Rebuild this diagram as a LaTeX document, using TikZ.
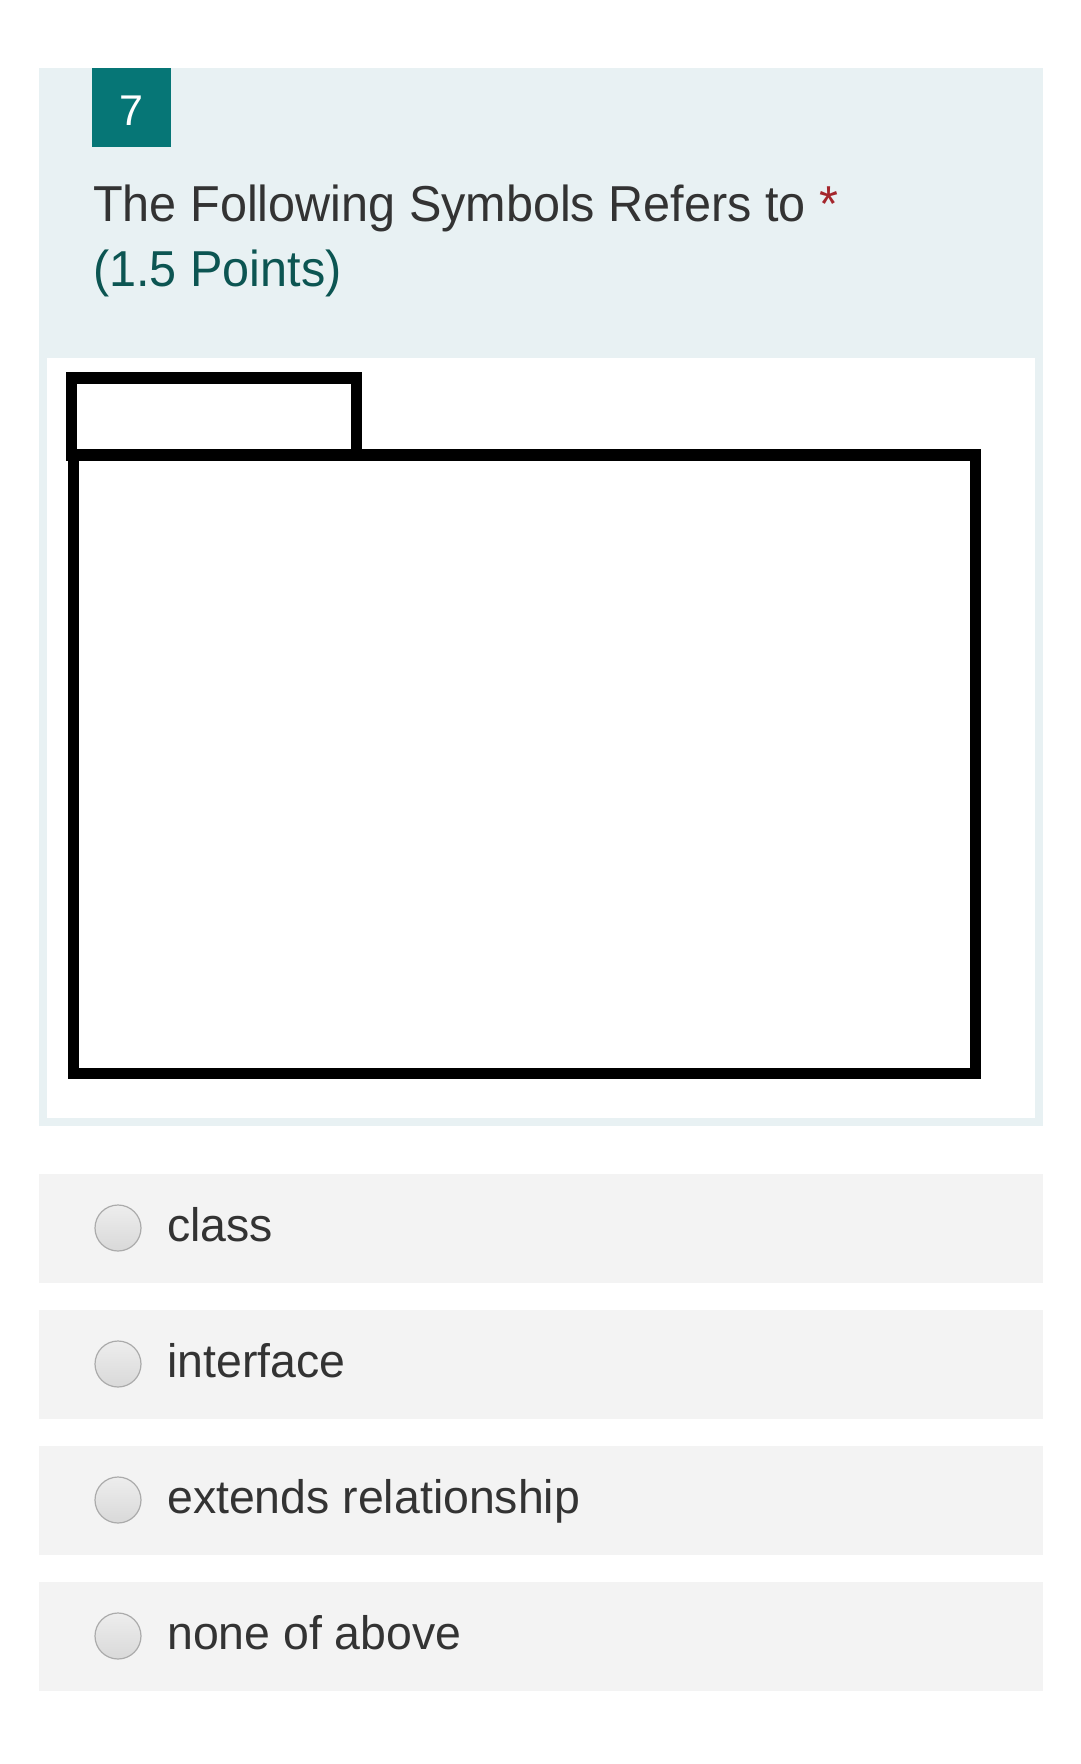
\documentclass[tikz,border=0pt]{standalone}
\usepackage{fontspec}
\setmainfont{Liberation Sans}
\newfontfamily\titlefont[FakeStretch=0.962]{Liberation Sans}
\newfontfamily\answerfont[FakeStretch=0.988]{Liberation Sans}
\usetikzlibrary{positioning}
\definecolor{hdrblue}{HTML}{E8F1F3}
\definecolor{optgray}{HTML}{F3F3F3}
\definecolor{badgeteal}{HTML}{067676}
\definecolor{pointsteal}{HTML}{0C5552}
\definecolor{txtgray}{HTML}{333333}
\definecolor{starred}{HTML}{A4262C}
\definecolor{radioedge}{HTML}{ABABAB}
\tikzstyle{badge} = [fill=badgeteal,rectangle,inner sep=0,minimum width=79pt,minimum height=79pt,text height=35pt,text=white,font=\fontsize{43pt}{50pt}\selectfont]
\tikzstyle{qtext} = [anchor=base west,inner sep=0,font=\titlefont\fontsize{50.5pt}{60pt}\selectfont]
\tikzstyle{pkgline} = [draw=black,line width=11.5pt,rectangle,inner sep=0]
\tikzstyle{optbox} = [fill=optgray,rectangle,inner sep=0,minimum width=1004pt,minimum height=109pt]
\tikzstyle{radio} = [circle,draw=radioedge,line width=1.2pt,top color=black!7,bottom color=black!15,minimum size=46pt,inner sep=0]
\tikzstyle{opttext} = [anchor=base west,inner sep=0,text=txtgray,font=\answerfont\fontsize{47pt}{56pt}\selectfont]
\def \lift {13.5pt}

\begin{document}
\begin{tikzpicture}[x=1pt,y=-1pt]
      \useasboundingbox[fill=white] (0,0) rectangle (1080,1764);
      % question card
      \fill[hdrblue] (39,68) rectangle (1043,1126);
      \fill[white] (47,358) rectangle (1035,1118);
      \node[badge] (num) at (131.5,107.5) {7};
      \node[qtext,text=txtgray] (title) at (93,221) {The Following Symbols Refers to \textcolor{starred}{*}};
      \node[qtext,text=pointsteal] (points) at (93,286) {(1.5 Points)};
      % package symbol
      \node[pkgline,minimum width=902pt,minimum height=618.5pt] (body) at (524.5,764.25) {};
      \node[pkgline,minimum width=285pt,minimum height=77.5pt] (tab) at (214,416.75) {};
      % answers
      \node[optbox] (opta) at (541,1228) {};
      \node[optbox] (optb) at (541,1364) {};
      \node[optbox] (optc) at (541,1500) {};
      \node[optbox] (optd) at (541,1636) {};
      \node[radio] (ra) at (118,1228) {};
      \node[radio] (rb) at (118,1364) {};
      \node[radio] (rc) at (118,1500) {};
      \node[radio] (rd) at (118,1636) {};
      \node[opttext] (la) at ([yshift=-\lift]ra.center -| 167,0) {class};
      \node[opttext] (lb) at ([yshift=-\lift]rb.center -| 167,0) {interface};
      \node[opttext] (lc) at ([yshift=-\lift]rc.center -| 167,0) {extends relationship};
      \node[opttext] (ld) at ([yshift=-\lift]rd.center -| 167,0) {none of above};
    \end{tikzpicture}
\end{document}
